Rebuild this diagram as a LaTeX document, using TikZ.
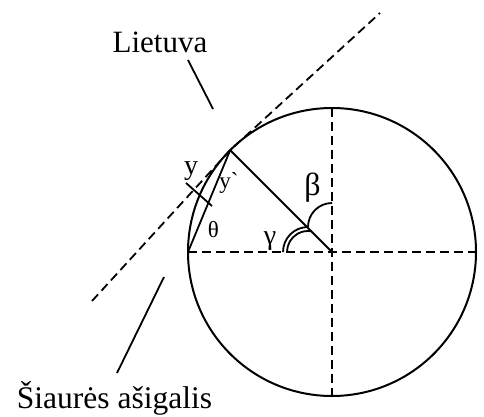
\documentclass[tikz,border=0pt]{standalone}
\usepackage{fontspec}
\setmainfont{Liberation Serif}
\newfontfamily\rawserif{Liberation Serif}[Ligatures=TeXOff]
\usetikzlibrary{calc}
\tikzset{
  ln/.style={line width=1.8pt},
  dsh/.style={line width=1.8pt, dash pattern=on 9pt off 5pt},
  lbl/.style={inner sep=0pt, anchor=base},
}
\begin{document}
\begin{tikzpicture}[x=1pt,y=1pt]
\useasboundingbox (0,0) rectangle (484,416);
% main points
\coordinate (O) at (332,164);
\coordinate (V) at ($(O)+(135:144)$);
\coordinate (W) at ($(O)+(180:144)$);
\coordinate (E) at ($(O)+(0:144)$);
\coordinate (N) at ($(O)+(90:144)$);
\coordinate (S) at ($(O)+(270:144)$);
\coordinate (T1) at (92,115);
\coordinate (T2) at (380,403);
% circle and axes
\draw[line width=2pt] (O) circle[radius=144];
\draw[dsh] (W) -- (E);
\draw[dsh] (N) -- (S);
% tangent line
\draw[dsh] (T1) -- (V) -- (T2);
% radius and chord
\draw[ln] (V) -- (O);
\draw[ln] (V) -- (W);
% tick mark
\coordinate (K1) at (186,233);
\coordinate (K2) at (212,210);
\draw[ln] (K1) -- (K2);
% beta arc
\draw[ln] (332,213) arc[start angle=90, end angle=180, radius=24];
% gamma double arc
\draw[ln] (283,164) arc[start angle=180, end angle=90, radius=25];
\draw[ln] (287,164) arc[start angle=180, end angle=81, radius=21];
% labels
\node[lbl, font=\fontsize{28}{32}\selectfont] (ly) at (191,242) {y};
\node[lbl, font=\rawserif\fontsize{23}{27}\selectfont] (lyp) at (229,228) {y`};
\node[lbl, font=\fontsize{23}{27}\selectfont] (lth) at (213.5,179) {θ};
\node[lbl, font=\fontsize{28}{32}\selectfont] (lga) at (270,172) {γ};
\node[lbl, font=\fontsize{32}{36}\selectfont] (lbe) at (312.5,221) {β};
\node[lbl, font=\fontsize{31}{36}\selectfont] (lt) at (160,363.3) {Lietuva};
\node[lbl, font=\fontsize{31.5}{36}\selectfont] (sa) at (114.5,8) {Šiaurės ašigalis};
% leaders
\coordinate (A1) at (188,356);
\coordinate (A2) at (213,307);
\coordinate (B1) at (164,139);
\coordinate (B2) at (117,43);
\draw[ln] (A1) -- (A2);
\draw[ln] (B1) -- (B2);
\end{tikzpicture}
\end{document}
